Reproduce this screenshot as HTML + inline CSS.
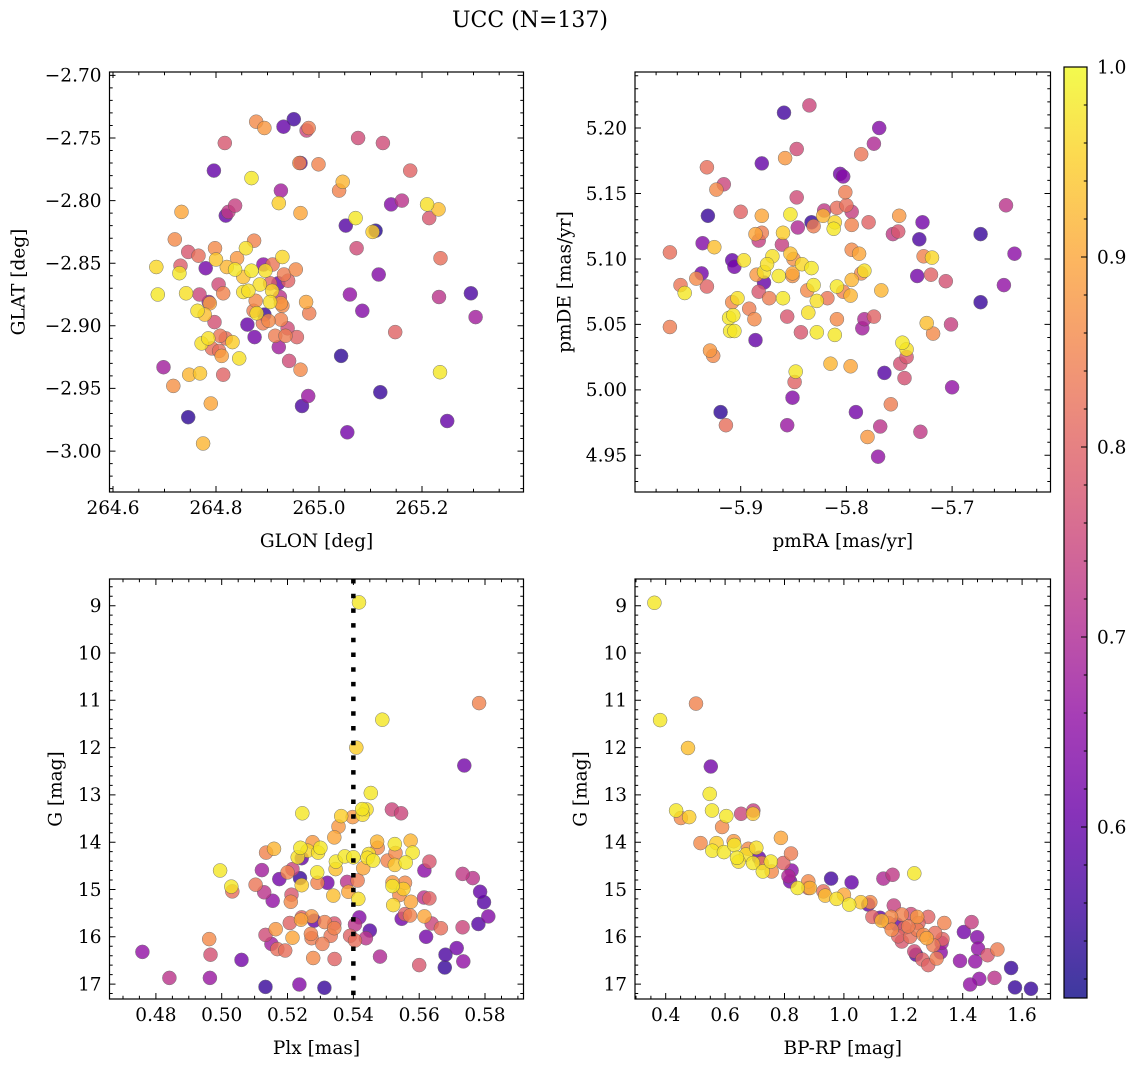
<!DOCTYPE html>
<html><head><meta charset="utf-8"><title>UCC (N=137)</title>
<style>
html,body{margin:0;padding:0;background:#fff;}
svg{display:block;font-family:"DejaVu Serif","Liberation Serif",serif;}
</style></head>
<body>
<svg id="fig" width="1136" height="1067" viewBox="0 0 1136 1067" xmlns="http://www.w3.org/2000/svg">
<text x="530" y="27" font-size="22" text-anchor="middle">UCC (N=137)</text>
</svg>
<script>
// ---------- Panel 1: GLON / GLAT ----------
const glon=[264.878,264.894,264.931,264.951,264.976,264.980,264.817,265.076,265.124,264.962,264.964,264.999,264.796,265.177,264.869,265.046,265.039,264.926,264.922,264.837,264.824,264.819,264.964,265.140,265.161,265.210,265.232,265.214,264.733,265.071,265.052,265.110,265.104,265.073,265.236,264.720,264.874,264.746,264.766,264.798,264.858,264.800,264.841,264.929,264.684,264.731,264.729,264.780,264.821,264.837,264.892,264.910,264.869,264.896,264.853,264.955,264.932,264.940,264.921,264.905,264.885,264.805,265.116,264.687,264.742,264.768,264.814,264.853,264.863,264.909,264.924,264.877,264.788,264.786,264.905,264.926,264.975,265.060,265.233,265.295,264.764,264.778,264.873,264.879,264.894,264.929,264.981,265.084,265.304,264.797,264.861,264.891,264.902,264.926,264.939,265.148,264.772,264.785,264.808,264.819,264.832,264.875,264.915,264.935,264.957,264.792,264.806,264.811,264.845,264.922,265.043,264.698,264.942,264.964,264.748,264.769,264.814,265.235,264.717,265.119,264.979,264.967,264.790,264.746,265.249,265.055,264.775];
const glat=[-2.737,-2.742,-2.741,-2.735,-2.744,-2.742,-2.754,-2.750,-2.754,-2.770,-2.770,-2.771,-2.776,-2.776,-2.782,-2.785,-2.792,-2.792,-2.802,-2.804,-2.809,-2.812,-2.810,-2.803,-2.800,-2.803,-2.807,-2.814,-2.809,-2.814,-2.820,-2.824,-2.825,-2.838,-2.846,-2.831,-2.832,-2.841,-2.844,-2.838,-2.838,-2.847,-2.846,-2.845,-2.853,-2.852,-2.858,-2.854,-2.853,-2.855,-2.851,-2.851,-2.856,-2.856,-2.861,-2.855,-2.859,-2.864,-2.866,-2.866,-2.867,-2.867,-2.859,-2.875,-2.874,-2.875,-2.874,-2.873,-2.872,-2.872,-2.877,-2.880,-2.882,-2.881,-2.881,-2.882,-2.881,-2.875,-2.877,-2.874,-2.888,-2.891,-2.888,-2.890,-2.891,-2.884,-2.890,-2.888,-2.893,-2.897,-2.899,-2.898,-2.896,-2.895,-2.902,-2.905,-2.914,-2.910,-2.908,-2.910,-2.913,-2.909,-2.908,-2.908,-2.909,-2.918,-2.920,-2.924,-2.926,-2.917,-2.924,-2.933,-2.928,-2.935,-2.939,-2.938,-2.939,-2.937,-2.948,-2.953,-2.956,-2.964,-2.962,-2.973,-2.976,-2.985,-2.994];
const prob1=[.86,.88,.6,.56,.75,.84,.78,.76,.76,.86,.6,.85,.6,.8,.98,.92,.85,.68,.95,.74,.73,.6,.9,.64,.72,.97,.93,.78,.9,.98,.58,.53,.95,.76,.82,.86,.85,.78,.82,.86,.97,.94,.88,.96,.96,.79,.98,.62,.92,.98,.65,.83,.98,.97,.93,.86,.84,.8,.6,.8,.97,.76,.64,.98,.97,.75,.85,.97,.97,.96,.72,.86,.9,.65,.97,.88,.9,.66,.72,.57,.97,.93,.84,.97,.55,.86,.84,.64,.68,.77,.6,.84,.86,.85,.76,.8,.97,.97,.83,.82,.95,.62,.84,.84,.8,.82,.82,.89,.97,.68,.54,.68,.76,.86,.92,.94,.8,.98,.87,.55,.67,.57,.9,.54,.6,.62,.92];
const glonTicks=[264.6,264.8,265.0,265.2];
const glonTickLabels=["264.6","264.8","265.0","265.2"];
const glatTicks=[-2.70,-2.75,-2.80,-2.85,-2.90,-2.95,-3.00];
const glatTickLabels=["\u22122.70","\u22122.75","\u22122.80","\u22122.85","\u22122.90","\u22122.95","\u22123.00"];

// ---------- Panel 2: pmRA / pmDE ----------
const pmra=[-5.859,-5.835,-5.769,-5.774,-5.847,-5.858,-5.786,-5.880,-5.932,-5.916,-5.923,-5.806,-5.803,-5.801,-5.847,-5.649,-5.931,-5.900,-5.880,-5.853,-5.821,-5.809,-5.800,-5.795,-5.833,-5.831,-5.822,-5.811,-5.812,-5.795,-5.779,-5.750,-5.728,-5.673,-5.936,-5.925,-5.886,-5.880,-5.883,-5.860,-5.861,-5.846,-5.756,-5.751,-5.731,-5.967,-5.908,-5.906,-5.897,-5.870,-5.853,-5.850,-5.842,-5.833,-5.795,-5.788,-5.727,-5.719,-5.641,-5.937,-5.942,-5.957,-5.953,-5.932,-5.885,-5.878,-5.875,-5.878,-5.864,-5.851,-5.851,-5.831,-5.837,-5.809,-5.803,-5.795,-5.786,-5.783,-5.796,-5.767,-5.733,-5.720,-5.706,-5.651,-5.908,-5.903,-5.883,-5.873,-5.860,-5.828,-5.818,-5.892,-5.887,-5.911,-5.907,-5.910,-5.906,-5.856,-5.836,-5.809,-5.783,-5.785,-5.774,-5.673,-5.967,-5.886,-5.843,-5.828,-5.811,-5.724,-5.718,-5.701,-5.929,-5.926,-5.747,-5.743,-5.743,-5.749,-5.815,-5.796,-5.848,-5.849,-5.764,-5.745,-5.700,-5.851,-5.758,-5.919,-5.791,-5.914,-5.856,-5.768,-5.730,-5.780,-5.770];
const pmde=[5.2117,5.2173,5.200,5.188,5.184,5.177,5.180,5.173,5.170,5.157,5.153,5.165,5.163,5.151,5.147,5.141,5.133,5.136,5.133,5.134,5.137,5.139,5.141,5.136,5.128,5.125,5.133,5.128,5.123,5.126,5.128,5.133,5.128,5.119,5.112,5.109,5.119,5.120,5.114,5.120,5.111,5.124,5.119,5.121,5.115,5.105,5.099,5.094,5.099,5.102,5.104,5.100,5.096,5.093,5.107,5.104,5.102,5.101,5.104,5.089,5.085,5.080,5.074,5.079,5.088,5.090,5.096,5.082,5.087,5.089,5.087,5.080,5.076,5.079,5.075,5.084,5.089,5.091,5.072,5.076,5.087,5.088,5.083,5.080,5.067,5.070,5.075,5.070,5.070,5.068,5.070,5.062,5.054,5.055,5.057,5.045,5.045,5.056,5.059,5.054,5.054,5.047,5.056,5.067,5.048,5.038,5.044,5.044,5.042,5.051,5.043,5.050,5.030,5.026,5.036,5.031,5.025,5.020,5.020,5.018,5.014,5.006,5.013,5.009,5.002,4.994,4.989,4.983,4.983,4.973,4.973,4.972,4.968,4.964,4.949];
const prob2=[.56,.75,.64,.7,.76,.88,.83,.6,.82,.75,.86,.62,.64,.84,.76,.72,.55,.8,.9,.98,.73,.82,.82,.74,.55,.84,.92,.96,.98,.85,.8,.88,.62,.55,.64,.93,.9,.84,.74,.95,.74,.7,.73,.78,.57,.82,.6,.62,.97,.97,.93,.87,.96,.98,.86,.9,.85,.96,.65,.62,.86,.83,.98,.8,.88,.97,.97,.6,.98,.9,.87,.98,.86,.98,.85,.92,.86,.97,.92,.92,.62,.8,.77,.66,.86,.97,.78,.84,.98,.97,.83,.84,.86,.98,.98,.98,.98,.78,.97,.86,.7,.68,.8,.55,.84,.6,.78,.98,.98,.93,.86,.74,.88,.86,.98,.97,.78,.77,.92,.9,.98,.8,.58,.77,.66,.64,.84,.54,.62,.82,.67,.72,.73,.88,.66];
const pmraTicks=[-5.9,-5.8,-5.7];
const pmraTickLabels=["\u22125.9","\u22125.8","\u22125.7"];
const pmdeTicks=[5.20,5.15,5.10,5.05,5.00,4.95];
const pmdeTickLabels=["5.20","5.15","5.10","5.05","5.00","4.95"];

// ---------- Panel 3: Plx / G ----------
const plx=[0.5417,0.5782,0.5488,0.5409,0.5737,0.5453,0.5245,0.5427,0.5440,0.5428,0.5517,0.5545,0.5363,0.5398,0.5355,0.5342,0.5276,0.5135,0.5159,0.5239,0.5261,0.5300,0.5293,0.5231,0.5243,0.5472,0.5474,0.5526,0.5528,0.5574,0.5580,0.5447,0.5443,0.5460,0.5504,0.5526,0.5559,0.5631,0.5347,0.5374,0.5400,0.5430,0.5346,0.4995,0.5122,0.5215,0.5200,0.5238,0.5175,0.5290,0.5291,0.5321,0.5381,0.5413,0.5103,0.5129,0.5155,0.5212,0.5210,0.5243,0.5029,0.5032,0.5616,0.5732,0.5763,0.5785,0.5797,0.5810,0.5780,0.5732,0.5339,0.5385,0.5415,0.5519,0.5519,0.5557,0.5552,0.5540,0.5575,0.5521,0.5615,0.5631,0.5547,0.5557,0.5572,0.5616,0.5638,0.5666,0.5621,0.5418,0.5405,0.5450,0.5438,0.5390,0.5405,0.5243,0.5241,0.5273,0.5281,0.5207,0.5313,0.5342,0.5342,0.5164,0.5133,0.5215,0.5271,0.5273,0.5306,0.5331,0.5151,0.5169,0.5193,0.4962,0.4966,0.5060,0.5278,0.5343,0.5481,0.5600,0.5680,0.5714,0.5678,0.5734,0.4759,0.4841,0.4964,0.5133,0.5236,0.5312];
const gmag3=[8.93,11.06,11.41,12.00,12.38,12.96,13.39,13.30,13.31,13.42,13.31,13.39,13.45,13.47,13.67,13.90,14.00,14.22,14.14,14.12,14.18,14.12,14.22,14.32,14.34,13.99,14.12,14.04,14.23,13.97,14.22,14.25,14.33,14.39,14.39,14.48,14.43,14.41,14.41,14.30,14.32,14.55,14.57,14.60,14.59,14.57,14.64,14.76,14.78,14.64,14.86,14.86,14.84,14.81,14.90,15.06,15.24,15.11,15.26,14.91,14.94,15.04,14.60,14.67,14.76,15.05,15.27,15.57,15.73,15.80,15.13,15.05,15.20,14.85,14.93,14.86,14.99,15.12,15.26,15.33,15.17,15.19,15.62,15.52,15.55,15.57,15.72,15.82,16.00,15.59,15.74,15.87,16.03,15.98,16.08,15.59,15.64,15.57,15.66,15.71,15.69,15.72,15.82,15.84,15.96,16.02,15.94,16.03,16.15,15.98,16.15,16.26,16.29,16.05,16.38,16.49,16.45,16.47,16.42,16.60,16.38,16.24,16.65,16.52,16.32,16.87,16.87,17.06,17.01,17.08];
const prob3=[.98,.85,.98,.95,.62,.98,.98,.98,.97,.97,.75,.75,.95,.88,.88,.9,.88,.85,.92,.98,.96,.98,.97,.97,.6,.92,.86,.98,.86,.92,.98,.97,.97,.98,.85,.94,.98,.78,.98,.98,.98,.9,.93,.98,.68,.75,.85,.55,.62,.98,.85,.62,.72,.84,.83,.72,.66,.78,.86,.95,.98,.82,.65,.73,.72,.6,.58,.64,.58,.75,.93,.9,.97,.88,.98,.86,.95,.86,.9,.96,.72,.8,.62,.8,.85,.9,.75,.82,.62,.64,.72,.58,.72,.8,.82,.8,.9,.88,.6,.8,.85,.78,.85,.88,.76,.9,.85,.84,.84,.83,.68,.82,.82,.86,.77,.62,.86,.8,.7,.78,.57,.62,.55,.66,.66,.72,.67,.55,.64,.55];
const plxTicks=[0.48,0.50,0.52,0.54,0.56,0.58];
const plxTickLabels=["0.48","0.50","0.52","0.54","0.56","0.58"];
const plxMarker=[0.54];
const gTicks=[9,10,11,12,13,14,15,16,17];
const gTickLabels=["9","10","11","12","13","14","15","16","17"];

// ---------- Panel 4: BP-RP / G ----------
const bprp=[0.362,0.502,0.381,0.475,0.552,0.548,0.435,0.451,0.479,0.556,0.604,0.590,0.654,0.695,0.694,0.517,0.557,0.571,0.596,0.629,0.631,0.640,0.670,0.678,0.705,0.694,0.714,0.727,0.754,0.757,0.788,0.822,0.796,0.824,0.813,0.819,0.844,0.880,0.886,0.957,1.026,0.931,0.937,0.975,1.000,1.018,1.057,1.089,1.133,1.164,1.237,1.168,1.096,1.122,1.127,1.159,1.195,1.226,1.247,1.284,1.338,1.161,1.204,1.247,1.183,1.223,1.279,1.195,1.332,1.329,1.326,1.301,1.237,1.243,1.264,1.284,1.312,1.404,1.430,1.449,1.452,1.484,1.517,1.391,1.442,1.456,1.425,1.507,1.563,1.576,1.630,1.217,1.251,1.268,1.150,1.178,1.307,0.645,0.723,0.880,1.082];
const gmag4=[8.94,11.07,11.42,12.01,12.40,12.98,13.33,13.49,13.47,13.33,13.45,13.68,13.40,13.33,13.40,14.02,14.18,14.02,14.21,13.98,14.06,14.33,14.26,14.14,14.12,14.44,14.33,14.62,14.41,14.62,13.91,14.24,14.44,14.60,14.72,14.83,14.97,14.83,14.97,14.77,14.85,15.04,15.13,15.20,15.11,15.32,15.27,15.27,14.77,14.69,14.66,15.34,15.58,15.60,15.66,15.58,15.53,15.52,15.58,15.58,15.71,15.85,15.81,15.85,15.99,16.00,16.03,16.10,16.05,16.13,16.33,16.18,16.31,16.38,16.48,16.60,16.46,15.90,15.69,16.01,16.25,16.39,16.27,16.51,16.52,16.89,17.01,16.87,16.66,17.07,17.10,15.78,15.71,15.96,15.71,15.74,15.92,14.41,14.44,14.97,15.32];
const prob4=[.98,.85,.98,.93,.62,.98,.98,.86,.95,.98,.98,.86,.75,.74,.94,.86,.98,.95,.98,.88,.98,.98,.97,.86,.97,.98,.6,.98,.98,.86,.9,.84,.8,.65,.7,.62,.98,.86,.92,.56,.6,.82,.93,.97,.9,.98,.94,.86,.7,.73,.98,.74,.8,.6,.92,.86,.85,.76,.88,.8,.85,.86,.8,.84,.8,.82,.9,.78,.8,.68,.65,.84,.76,.58,.8,.8,.84,.62,.74,.64,.66,.78,.84,.66,.66,.66,.66,.72,.55,.55,.55,.84,.8,.86,.82,.6,.82,.97,.85,.8,.6];
const bprpTicks=[0.4,0.6,0.8,1.0,1.2,1.4,1.6];
const bprpTickLabels=["0.4","0.6","0.8","1.0","1.2","1.4","1.6"];

// ---------- Colorbar ----------
const cbarRange=[0.51,1.0];
const cbarTicks=[0.6,0.7,0.8,0.9,1.0];
const cbarTickLabels=["0.6","0.7","0.8","0.9","1.0"];

const NS="http://www.w3.org/2000/svg";
const svg=document.getElementById('fig');
const FS=18.5;
function mk(tag,attrs,parent){const e=document.createElementNS(NS,tag);for(const k in attrs)e.setAttribute(k,attrs[k]);(parent||svg).appendChild(e);return e;}

const plasmaStops=[[13,8,135],[65,4,157],[106,0,168],[143,13,164],[177,42,144],[204,71,120],[225,100,98],[242,132,75],[252,166,54],[252,206,37],[240,249,33]];
function plasma(t){t=Math.max(0,Math.min(1,t));const f=t*10;const i=Math.min(9,Math.floor(f));const r=f-i;const a=plasmaStops[i],b=plasmaStops[i+1];return 'rgb('+a.map((v,k)=>Math.round(v+(b[k]-v)*r)).join(',')+')';}
function cnorm(p){return (p-cbarRange[0])/(cbarRange[1]-cbarRange[0]);}

function panel(o){
  const g=mk('g',{});
  
  
  const xs=v=>o.l+(v-o.xd[0])/(o.xd[1]-o.xd[0])*(o.r-o.l);
  const ys=o.yinv?(v=>o.t+(v-o.yd[0])/(o.yd[1]-o.yd[0])*(o.b-o.t)):(v=>o.b-(v-o.yd[0])/(o.yd[1]-o.yd[0])*(o.b-o.t));
  const idx=o.px.map((_,i)=>i).sort((a,b)=>o.pc[a]-o.pc[b]);
  const pg=mk('g',{},g);
  
  
  idx.forEach(i=>{
    const c=mk('circle',{cx:xs(o.px[i]).toFixed(1),cy:ys(o.py[i]).toFixed(1),r:7,fill:plasma(cnorm(o.pc[i])),stroke:'#555','stroke-width':0.5,opacity:0.8},pg);
    
    
  });
  if(o.vline){o.vline.forEach(v=>{
    const ln=mk('line',{x1:xs(v),x2:xs(v),y1:o.t,y2:o.b,stroke:'#000','stroke-width':4.5,'stroke-dasharray':'4.5 10.2'},g);
    
    
  });}
  const fr=mk('rect',{x:o.l,y:o.t,width:o.r-o.l,height:o.b-o.t,fill:'none',stroke:'#000','stroke-width':1.2},g);
  
  
  let d='';
  const eps=1e-9;
  const xlo=Math.min(...o.xd),xhi=Math.max(...o.xd),ylo=Math.min(...o.yd),yhi=Math.max(...o.yd);
  for(let k=Math.ceil(xlo/o.xminor-eps);k*o.xminor<=xhi+eps;k++){
    const v=k*o.xminor;const major=Math.abs(v/o.xmajor-Math.round(v/o.xmajor))<1e-6;const L=major?6:3.2;const x=xs(v).toFixed(1);
    d+=`M${x} ${o.b}v${-L}M${x} ${o.t}v${L}`;
  }
  for(let k=Math.ceil(ylo/o.yminor-eps);k*o.yminor<=yhi+eps;k++){
    const v=k*o.yminor;const major=Math.abs(v/o.ymajor-Math.round(v/o.ymajor))<1e-6;const L=major?6:3.2;const y=ys(v).toFixed(1);
    d+=`M${o.l} ${y}h${L}M${o.r} ${y}h${-L}`;
  }
  const tk=mk('path',{d:d,stroke:'#000','stroke-width':1,fill:'none'},g);
  
  
  o.xt.forEach((v,i)=>{const t=mk('text',{x:xs(v),y:o.b+22,'font-size':FS,'text-anchor':'middle'},g);t.textContent=o.xtl[i];
    
    });
  o.yt.forEach((v,i)=>{const t=mk('text',{x:o.l-8,y:ys(v)+6.3,'font-size':FS,'text-anchor':'end'},g);t.textContent=o.ytl[i];
    
    });
  const xt=mk('text',{x:(o.l+o.r)/2,y:o.b+55,'font-size':FS,'text-anchor':'middle'},g);xt.textContent=o.xlabel;
  
  
  const yc=(o.t+o.b)/2;
  const yt=mk('text',{x:o.ytx,y:yc,'font-size':FS,'text-anchor':'middle',transform:`rotate(-90 ${o.ytx} ${yc})`,dy:'0.35em'},g);yt.textContent=o.ylabel;
  
  
}

panel({name:'glon-glat-panel',l:109.5,r:523.5,t:72,b:492,xd:[264.5932,265.3971],yd:[-3.0327,-2.6973],px:glon,py:glat,pc:prob1,
  xmajor:0.2,xminor:0.05,ymajor:0.05,yminor:0.01,xt:glonTicks,xtl:glonTickLabels,yt:glatTicks,ytl:glatTickLabels,xlabel:'GLON [deg]',ylabel:'GLAT [deg]',ytx:18});
panel({name:'pmra-pmde-panel',l:635,r:1050.5,t:72,b:492,xd:[-6.0,-5.6069],yd:[4.9220,5.2428],px:pmra,py:pmde,pc:prob2,
  xmajor:0.1,xminor:0.02,ymajor:0.05,yminor:0.01,xt:pmraTicks,xtl:pmraTickLabels,yt:pmdeTicks,ytl:pmdeTickLabels,xlabel:'pmRA [mas/yr]',ylabel:'pmDE [mas/yr]',ytx:564});
panel({name:'plx-g-panel',l:109.5,r:523.5,t:579,b:999,xd:[0.4659,0.5917],yd:[8.436,17.316],yinv:true,px:plx,py:gmag3,pc:prob3,vline:plxMarker,
  xmajor:0.02,xminor:0.005,ymajor:1,yminor:0.2,xt:plxTicks,xtl:plxTickLabels,yt:gTicks,ytl:gTickLabels,xlabel:'Plx [mas]',ylabel:'G [mag]',ytx:55});
panel({name:'cmd-panel',l:635,r:1050.5,t:579,b:999,xd:[0.2966,1.6957],yd:[8.436,17.316],yinv:true,px:bprp,py:gmag4,pc:prob4,
  xmajor:0.2,xminor:0.05,ymajor:1,yminor:0.2,xt:bprpTicks,xtl:bprpTickLabels,yt:gTicks,ytl:gTickLabels,xlabel:'BP-RP [mag]',ylabel:'G [mag]',ytx:580});

(function(){
  const l=1064,w=23,t=67,b=998;
  const cg=mk('g',{});
  
  
  const defs=mk('defs',{},cg);
  const lg=mk('linearGradient',{id:'plasmaGrad',x1:0,y1:1,x2:0,y2:0},defs);
  for(let i=0;i<=20;i++){mk('stop',{offset:(i/20),'stop-color':plasma(i/20)},lg);}
  const r=mk('rect',{x:l,y:t,width:w,height:b-t,fill:'url(#plasmaGrad)',opacity:0.8},cg);
  
  
  mk('rect',{x:l,y:t,width:w,height:b-t,fill:'none',stroke:'#000','stroke-width':1.2},cg);
  const ys=v=>b-(v-cbarRange[0])/(cbarRange[1]-cbarRange[0])*(b-t);
  let d='';
  for(let k=Math.ceil(cbarRange[0]/0.02-1e-9);k*0.02<=cbarRange[1]+1e-9;k++){
    const v=k*0.02;const major=Math.abs(v*10-Math.round(v*10))<1e-6;d+=`M${l+w} ${ys(v).toFixed(1)}h${major?-6:-3.2}`;
  }
  mk('path',{d:d,stroke:'#000','stroke-width':1},cg);
  cbarTicks.forEach((v,i)=>{const tx=mk('text',{x:1097,y:ys(v)+6.3,'font-size':FS},cg);tx.textContent=cbarTickLabels[i];
    
    });
})();
</script>
</body></html>
